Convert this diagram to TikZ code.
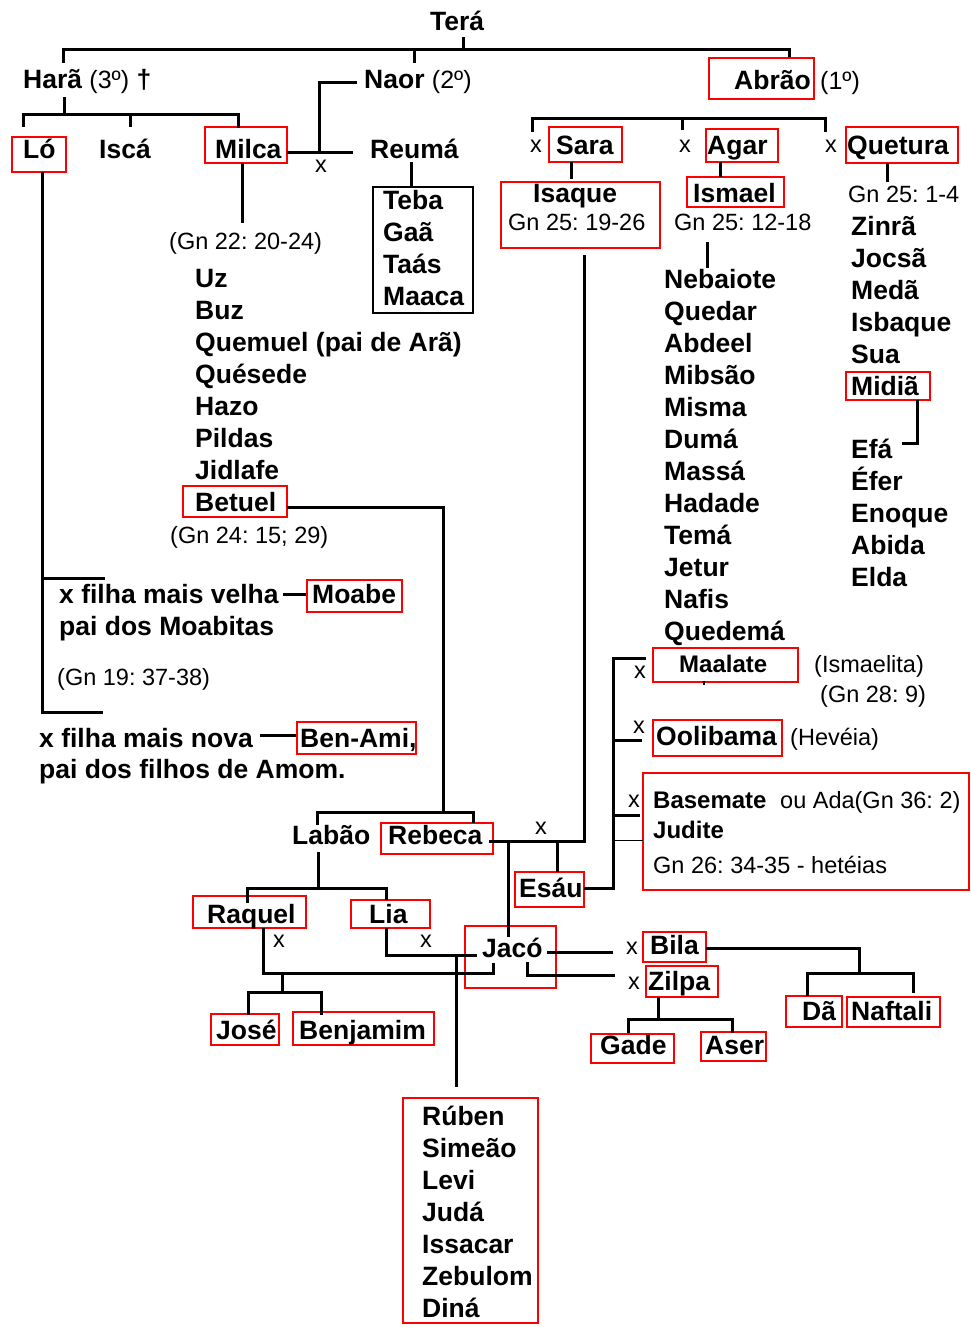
\documentclass[tikz,border=0pt]{standalone}
\usepackage{fontspec}
\setmainfont{Liberation Sans}
\usetikzlibrary{fit}
\newcommand\rgf{\fontsize{25}{30}\selectfont\mdseries}
\frenchspacing
\begin{document}
\begin{tikzpicture}[x=1pt,y=-1pt,
  bn/.style={font=\fontsize{26.5}{32}\selectfont\bfseries, inner sep=0pt, anchor=base west},
  bs/.style={font=\fontsize{24}{28}\selectfont\bfseries, inner sep=0pt, anchor=base west},
  rg/.style={font=\fontsize{23.5}{28}\selectfont, inner sep=0pt, anchor=base west},
  rbox/.style={draw=red, line width=1.5pt, inner sep=0pt},
  kbox/.style={draw=black, line width=1.5pt, inner sep=0pt},
  ln/.style={line width=3pt},
  thinln/.style={line width=1pt}]
\fill[white] (0,0) rectangle (971,1327);
\useasboundingbox (0,0) rectangle (971,1327);

% ---------- red / black boxes ----------
\node[rbox, fit={(12,137)(66,172)}] (lobox) {};
\node[rbox, fit={(205,127)(287,163)}] (milcabox) {};
\node[rbox, fit={(709,58)(814,99)}] (abraobox) {};
\node[rbox, fit={(549,127)(622,162)}] (sarabox) {};
\node[rbox, fit={(706,129)(778,162)}] (agarbox) {};
\node[rbox, fit={(846,127)(958,163)}] (queturabox) {};
\node[rbox, fit={(501,182)(660,248)}] (isaquebox) {};
\node[rbox, fit={(687,177)(784,207)}] (ismaelbox) {};
\node[rbox, fit={(846,372)(930,400)}] (midiabox) {};
\node[rbox, fit={(183,486)(287,517)}] (betuelbox) {};
\node[rbox, fit={(307,580)(402,612)}] (moabebox) {};
\node[rbox, fit={(297,722)(416,754)}] (benamibox) {};
\node[rbox, fit={(653,648)(798,682)}] (maalatebox) {};
\node[rbox, fit={(653,720)(782,756)}] (oolibamabox) {};
\node[rbox, fit={(643,773)(969,890)}] (basematebox) {};
\node[rbox, fit={(381,823)(493,854)}] (rebecabox) {};
\node[rbox, fit={(515,872)(584,907)}] (esaubox) {};
\node[rbox, fit={(193,896)(306,928)}] (raquelbox) {};
\node[rbox, fit={(351,900)(430,928)}] (liabox) {};
\node[rbox, fit={(465,926)(556,988)}] (jacobox) {};
\node[rbox, fit={(643,932)(706,962)}] (bilabox) {};
\node[rbox, fit={(646,966)(718,997)}] (zilpabox) {};
\node[rbox, fit={(786,996)(842,1027)}] (dabox) {};
\node[rbox, fit={(847,997)(940,1027)}] (naftalibox) {};
\node[rbox, fit={(591,1034)(674,1063)}] (gadebox) {};
\node[rbox, fit={(701,1032)(766,1061)}] (aserbox) {};
\node[rbox, fit={(211,1014)(279,1045)}] (josebox) {};
\node[rbox, fit={(293,1012)(434,1045)}] (benjamimbox) {};
\node[rbox, fit={(403,1098)(538,1323)}] (filhosbox) {};
\node[kbox, fit={(373,187)(473,313)}] (reumabox) {};

% ---------- texts ----------
\node[bn] (tera) at (430,31) {Terá};
\node[bn] (hara) at (23,89) {Harã {\rgf(3º)} †};
\node[bn] (naor) at (364,89) {Naor {\rgf(2º)}};
\node[bn] (abrao) at (734,90) {Abrão};
\node[bn] (abraoord) at (820,90) {\rgf(1º)};
\node[bn] (lo) at (23,158) {Ló};
\node[bn] (isca) at (99,158) {Iscá};
\node[bn] (milca) at (215,158) {Milca};
\node[bn] (reuma) at (370,158) {Reumá};
\node[rg] (xmilca) at (315,172) {x};
\foreach \t [count=\i] in {Teba,Gaã,Taás,Maaca}
  \node[bn] (rs\i) at (383,{209+32*(\i-1)}) {\t};
\node[rg] (gnmilca) at (169,249) {(Gn 22: 20-24)};
\foreach \t [count=\i] in {Uz,Buz,Quemuel (pai de Arã),Quésede,Hazo,Pildas,Jidlafe,Betuel}
  \node[bn] (ms\i) at (195,{287+32*(\i-1)}) {\t};
\node[rg] (gnbetuel) at (170,543) {(Gn 24: 15; 29)};
\node[bn] (velha) at (59,603) {x filha mais velha};
\node[bn] (moabe) at (312,603) {Moabe};
\node[bn] (moabitas) at (59,635) {pai dos Moabitas};
\node[rg] (gnlo) at (57,685) {(Gn 19: 37-38)};
\node[bn] (nova) at (39,747) {x filha mais nova};
\node[bn] (benami) at (300,747) {Ben-Ami,};
\node[bn] (amom) at (39,778) {pai dos filhos de Amom.};

\node[rg] (xsara) at (530,152) {x};
\node[bn] (sara) at (556,154) {Sara};
\node[rg] (xagar) at (679,152) {x};
\node[bn] (agar) at (707,154) {Agar};
\node[rg] (xquetura) at (825,152) {x};
\node[bn] (quetura) at (847,154) {Quetura};
\node[bn] (isaque) at (533,202) {Isaque};
\node[rg] (gnisaque) at (508,230) {Gn 25: 19-26};
\node[bn] (ismael) at (693,202) {Ismael};
\node[rg] (gnismael) at (674,230) {Gn 25: 12-18};
\node[rg] (gnquetura) at (848,202) {Gn 25: 1-4};
\foreach \t [count=\i] in {Nebaiote,Quedar,Abdeel,Mibsão,Misma,Dumá,Massá,Hadade,Temá,Jetur,Nafis,Quedemá}
  \node[bn] (is\i) at (664,{288+32*(\i-1)}) {\t};
\foreach \t [count=\i] in {Zinrã,Jocsã,Medã,Isbaque,Sua,Midiã}
  \node[bn] (qs\i) at (851,{235+32*(\i-1)}) {\t};
\foreach \t [count=\i] in {Efá,Éfer,Enoque,Abida,Elda}
  \node[bn] (md\i) at (851,{458+32*(\i-1)}) {\t};

\node[rg] (xmaalate) at (634,678) {x};
\node[bs] (maalate) at (679,672) {Maalate};
\node[rg] (ismaelita) at (814,672) {(Ismaelita)};
\node[rg] (gnmaalate) at (820,702) {(Gn 28: 9)};
\node[rg] (xoolibama) at (633,733) {x};
\node[bn] (oolibama) at (656,745) {Oolibama};
\node[rg] (heveia) at (790,745) {(Hevéia)};
\node[rg] (xbasemate) at (628,807) {x};
\node[bs] (basemate) at (653,808) {Basemate};
\node[rg] (ada) at (780,808) {ou Ada(Gn 36: 2)};
\node[bs] (judite) at (653,838) {Judite};
\node[rg] (heteias) at (653,873) {Gn 26: 34-35 - hetéias};

\node[bn] (labao) at (292,844) {Labão};
\node[bn] (rebeca) at (388,844) {Rebeca};
\node[rg] (xrebeca) at (535,834) {x};
\node[bn] (esau) at (519,897) {Esáu};
\node[bn] (raquel) at (207,923) {Raquel};
\node[bn] (lia) at (369,923) {Lia};
\node[rg] (xraquel) at (273,947) {x};
\node[rg] (xlia) at (420,947) {x};
\node[bn] (jaco) at (482,957) {Jacó};
\node[rg] (xbila) at (626,954) {x};
\node[bn] (bila) at (650,954) {Bila};
\node[rg] (xzilpa) at (628,989) {x};
\node[bn] (zilpa) at (648,990) {Zilpa};
\node[bn] (da) at (802,1020) {Dã};
\node[bn] (naftali) at (851,1020) {Naftali};
\node[bn] (gade) at (600,1054) {Gade};
\node[bn] (aser) at (705,1054) {Aser};
\node[bn] (jose) at (216,1039) {José};
\node[bn] (benjamim) at (299,1039) {Benjamim};
\foreach \t [count=\i] in {Rúben,Simeão,Levi,Judá,Issacar,Zebulom,Diná}
  \node[bn] (js\i) at (422,{1125+32*(\i-1)}) {\t};

% ---------- connectors ----------
\draw[ln] (63,63) -- (63,50) -- (789,50) -- (abraobox.north -| 789,58);
\draw[ln] (463,37) -- (463,50);
\draw[ln] (414,50) -- (414,63);
\draw[ln] (64,97) -- (64,115);
\draw[ln] (23,127) -- (23,115) -- (238,115) -- (238,128);
\draw[ln] (130,115) -- (130,127);
\draw[ln] (287,152) -- (353,152);
\draw[ln] (319,152) -- (319,83) -- (357,83);
\draw[ln] (411,162) -- (reumabox.north -| 411,187);
\draw[ln] (242,163) -- (242,223);
\draw[ln] (42,172) -- (42,712) -- (103,712);
\draw[ln] (42,578) -- (105,578);
\draw[ln] (283,594) -- (moabebox.west |- 307,594);
\draw[ln] (260,735) -- (benamibox.west |- 297,735);
\draw[ln] (287,507) -- (443,507) -- (443,812);
\draw[ln] (317,825) -- (317,812) -- (473,812) -- (473,823);
\draw[ln] (532,132) -- (532,119) -- (825,119) -- (825,132);
\draw[ln] (682,119) -- (682,130);
\draw[ln] (571,162) -- (571,179);
\draw[ln] (720,162) -- (720,177);
\draw[ln] (887,163) -- (887,182);
\draw[ln] (707,242) -- (707,268);
\draw[ln] (917,400) -- (917,443) -- (902,443);
\draw[ln] (584,255) -- (584,841) -- (489,841);
\draw[ln] (508,841) -- (508,937);
\draw[ln] (557,841) -- (557,872);
\draw[ln] (584,888) -- (613,888) -- (613,658) -- (646,658);
\draw[ln] (613,740) -- (642,740);
\draw[ln] (613,815) -- (640,815);
\draw[thinln] (613,840) -- (643,840);
\draw[line width=1.5pt] (704,681) -- (704,685);
\draw[ln] (318,852) -- (318,888);
\draw[ln] (247,903) -- (247,888) -- (386,888) -- (386,900);
\draw[ln] (386,928) -- (386,955) -- (477,955);
\draw[ln] (263,928) -- (263,973) -- (493,973) -- (493,963);
\draw[ln] (456,955) -- (456,1087);
\draw[ln] (282,973) -- (282,992);
\draw[ln] (248,1015) -- (248,992) -- (321,992) -- (321,1015);
\draw[ln] (547,952) -- (613,952);
\draw[ln] (527,962) -- (527,975) -- (615,975);
\draw[ln] (706,948) -- (859,948) -- (859,973);
\draw[ln] (807,996) -- (807,973) -- (913,973) -- (913,993);
\draw[ln] (658,997) -- (658,1019);
\draw[ln] (628,1033) -- (628,1019) -- (732,1019) -- (732,1033);
\end{tikzpicture}
\end{document}
